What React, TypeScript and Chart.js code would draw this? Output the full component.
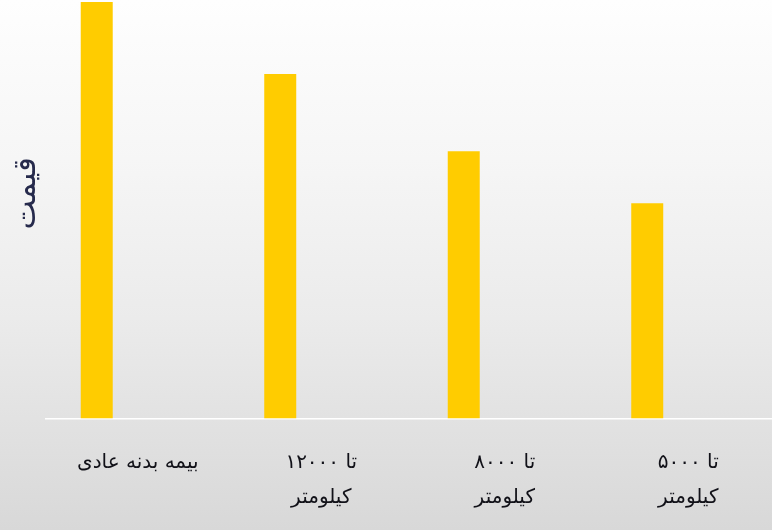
import Chart from 'chart.js/auto';
import { useEffect, useRef } from 'react';

const BAR_COLOR = '#FFCC00';
const LABEL_COLOR = '#111118';
const TITLE_COLOR = '#262a4c';
const FONT_FAMILY = '"DejaVu Sans", "Noto Sans", sans-serif';
const Y_TITLE = 'قیمت';

const categories: (string | string[])[] = [
  'بیمه بدنه عادی',
  ['تا ۱۲۰۰۰', 'کیلومتر'],
  ['تا ۸۰۰۰', 'کیلومتر'],
  ['تا ۵۰۰۰', 'کیلومتر'],
];
const priceValues = [1000, 827, 642, 517];
// second series of the original chart is empty, it only keeps the bar slot on the left
const emptyValues = [null, null, null, null];
const yMax = 1005;

const App = () => {
  const chartRef = useRef<HTMLCanvasElement | null>(null);

  useEffect(() => {
    if (chartRef.current === null) return () => {};
    const aChart = new Chart(chartRef.current, {
      type: 'bar',
      plugins: [{
        id: 'paperBackground',
        beforeDraw(chart) {
          const { ctx, width, height } = chart;
          const grad = ctx.createLinearGradient(0, 0, 0, height);
          grad.addColorStop(0, '#fefefe');
          grad.addColorStop(0.3, '#f6f6f6');
          grad.addColorStop(0.6, '#ebebeb');
          grad.addColorStop(1, '#d8d8d8');
          ctx.save();
          ctx.fillStyle = grad;
          ctx.fillRect(0, 0, width, height);
          ctx.restore();
        },
      }, {
        // y axis title, sitting a little above the middle of the axis as in the original
        id: 'yTitle',
        afterDraw(chart) {
          const { ctx, scales: { y } } = chart;
          ctx.save();
          ctx.translate(y.left + 27, y.getPixelForValue(yMax * 0.538));
          ctx.rotate(-Math.PI / 2);
          ctx.fillStyle = TITLE_COLOR;
          ctx.font = `31px ${FONT_FAMILY}`;
          ctx.textAlign = 'center';
          ctx.textBaseline = 'middle';
          ctx.fillText(Y_TITLE, 0, 0);
          ctx.restore();
        },
      }],
      data: {
        labels: categories,
        datasets: [
          {
            label: 'قیمت',
            data: priceValues,
            backgroundColor: BAR_COLOR,
            borderWidth: 0,
            categoryPercentage: 0.894,
            barPercentage: 0.39,
          },
          {
            label: '',
            data: emptyValues,
            backgroundColor: BAR_COLOR,
            borderWidth: 0,
            categoryPercentage: 0.894,
            barPercentage: 0.39,
          },
        ],
      },
      options: {
        responsive: false,
        animation: false,
        devicePixelRatio: 1,
        layout: { padding: 0 },
        plugins: {
          legend: { display: false },
          tooltip: { enabled: false },
        },
        scales: {
          x: {
            grid: { display: false, drawTicks: false },
            border: { display: true, color: '#ffffff', width: 1.5 },
            ticks: {
              color: LABEL_COLOR,
              padding: 26,
              maxRotation: 0,
              autoSkip: false,
              font: { family: FONT_FAMILY, size: 20, lineHeight: 1.78 },
            },
            afterFit(scale) {
              scale.height = 111.5;
            },
          },
          y: {
            min: 0,
            max: yMax,
            grid: { display: false, drawTicks: false },
            border: { display: false },
            ticks: { display: false },
            afterFit(scale) {
              scale.width = 46;
            },
          },
        },
      },
    });
    return () => {
      aChart.destroy();
    };
  }, []);

  return (
    <div style={{ position: 'fixed', left: 0, top: 0, width: 772, height: 530, overflow: 'hidden' }}>
      <canvas ref={chartRef} width={780} height={530} style={{ display: 'block' }} />
    </div>
  );
};

export default App;
